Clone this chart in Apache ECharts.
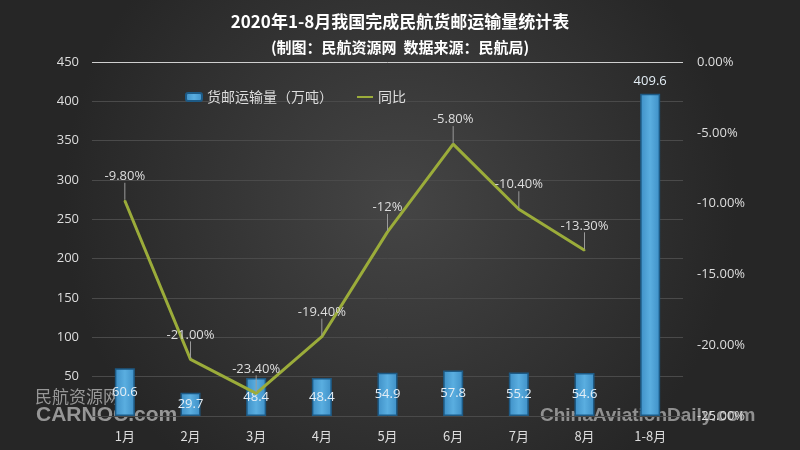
<!DOCTYPE html>
<html>
<head>
<meta charset="utf-8">
<script src="https://cdn.jsdelivr.net/npm/echarts@6/dist/echarts.min.js"></script>
<style>
  html, body { margin: 0; padding: 0; background: #2b2b2b; }
  #chart { width: 800px; height: 450px; }
</style>
</head>
<body>
<div id="chart"></div>
<script>
const months = ['1月', '2月', '3月', '4月', '5月', '6月', '7月', '8月', '1-8月']
const cargo = [60.6, 29.7, 48.4, 48.4, 54.9, 57.8, 55.2, 54.6, 409.6]
const yoy = [-9.8, -21.0, -23.4, -19.4, -12, -5.8, -10.4, -13.3, null]
const yoyLabels = ['-9.80%', '-21.00%', '-23.40%', '-19.40%', '-12%', '-5.80%', '-10.40%', '-13.30%', '']

const chart = echarts.init(document.getElementById('chart'))

// 最上面一条网格线较亮
const splitColors = ['#4a4a4a', '#4a4a4a', '#4a4a4a', '#4a4a4a', '#4a4a4a',
  '#4a4a4a', '#4a4a4a', '#4a4a4a', '#4a4a4a', '#cfcfcf']

const option = {
  backgroundColor: {
    type: 'radial', x: 0.5, y: 0.45, r: 0.75,
    colorStops: [
      { offset: 0, color: '#454545' },
      { offset: 1, color: '#262626' }
    ]
  },
  title: {
    text: '2020年1-8月我国完成民航货邮运输量统计表',
    subtext: '(制图：民航资源网  数据来源：民航局)',
    left: 'center',
    top: 8,
    itemGap: 10,
    textStyle: { color: '#ffffff', fontSize: 17, fontWeight: 'bold', fontFamily: 'Noto Sans CJK SC' },
    subtextStyle: { color: '#ffffff', fontSize: 15, fontWeight: 'bold', fontFamily: 'Noto Sans CJK SC' }
  },
  legend: {
    top: 85,
    left: 180,
    itemGap: 24,
    itemWidth: 16,
    itemHeight: 8,
    textStyle: { color: '#dddddd', fontSize: 14, fontFamily: 'Noto Sans CJK SC' },
    data: [
      { name: '货邮运输量（万吨）' },
      { name: '同比', icon: 'path://M0,0 L0.01,0 M0,2.8 L20,2.8 L20,5.2 L0,5.2 Z M0,8 L0.01,8' }
    ]
  },
  grid: { left: 92, right: 117, top: 62, bottom: 34 },
  xAxis: {
    type: 'category',
    data: months,
    axisLine: { show: false },
    axisTick: { show: false },
    axisLabel: { color: '#dddddd', fontSize: 13, margin: 14, fontFamily: 'Noto Sans CJK SC' }
  },
  yAxis: [
    {
      type: 'value',
      min: 0, max: 450, interval: 50,
      axisLine: { show: false },
      axisTick: { show: false },
      axisLabel: { color: '#dddddd', fontSize: 13, margin: 13, showMinLabel: false, fontFamily: 'Open Sans' },
      splitLine: { lineStyle: { color: splitColors, width: 1 } }
    },
    {
      type: 'value',
      min: -25, max: 0, interval: 5,
      axisLine: { show: false },
      axisTick: { show: false },
      splitLine: { show: false },
      axisLabel: {
        color: '#dddddd', fontSize: 13, margin: 14, fontFamily: 'Open Sans',
        formatter: v => v.toFixed(2) + '%'
      }
    }
  ],
  series: [
    {
      name: '货邮运输量（万吨）',
      type: 'bar',
      barWidth: 20,
      data: cargo,
      itemStyle: {
        color: {
          type: 'linear', x: 0, y: 0, x2: 1, y2: 0,
          colorStops: [
            { offset: 0, color: '#3e8fc6' },
            { offset: 0.5, color: '#5aaee0' },
            { offset: 1, color: '#3e8fc6' }
          ]
        },
        borderColor: '#1d5a85',
        borderWidth: 1.5
      },
      label: {
        show: true,
        position: 'inside',
        color: '#e3edf5',
        fontSize: 13,
        fontFamily: 'Open Sans',
        formatter: p => (p.dataIndex === cargo.length - 1 ? '' : p.value)
      },
      markPoint: {
        symbol: 'rect',
        symbolSize: 1,
        itemStyle: { color: 'transparent' },
        label: { show: true, position: 'top', color: '#e3edf5', fontSize: 13, fontFamily: 'Open Sans', formatter: '{c}' },
        data: [{ type: 'max' }]
      }
    },
    {
      name: '同比',
      type: 'line',
      yAxisIndex: 1,
      data: yoy,
      symbol: 'circle',
      symbolSize: 2,
      color: '#9bac3a',
      lineStyle: { color: '#9bac3a', width: 3 },
      label: {
        show: true,
        position: 'top',
        distance: 6,
        color: '#dddddd',
        fontSize: 13,
        fontFamily: 'Open Sans',
        formatter: p => yoyLabels[p.dataIndex]
      },
      labelLayout: { dy: -11 },
      labelLine: { show: true, lineStyle: { color: '#9a9a9a', width: 1 } }
    }
  ],
  graphic: [
    {
      type: 'text', left: 35, top: 388,
      style: { text: '民航资源网', fill: 'rgba(190,190,190,0.75)', fontSize: 17, fontFamily: 'Noto Sans CJK SC' }
    },
    {
      type: 'text', left: 36, top: 405,
      style: { text: 'CARNOC.com', fill: 'rgba(170,170,170,0.85)', fontSize: 21, fontWeight: 'bold', fontFamily: 'Liberation Sans' }
    },
    {
      type: 'text', left: 540, top: 406,
      style: { text: 'ChinaAviationDaily.com', fill: 'rgba(170,170,170,0.8)', fontSize: 19, fontWeight: 'bold', fontFamily: 'Liberation Sans' }
    }
  ]
}

chart.setOption(option)
</script>
</body>
</html>
